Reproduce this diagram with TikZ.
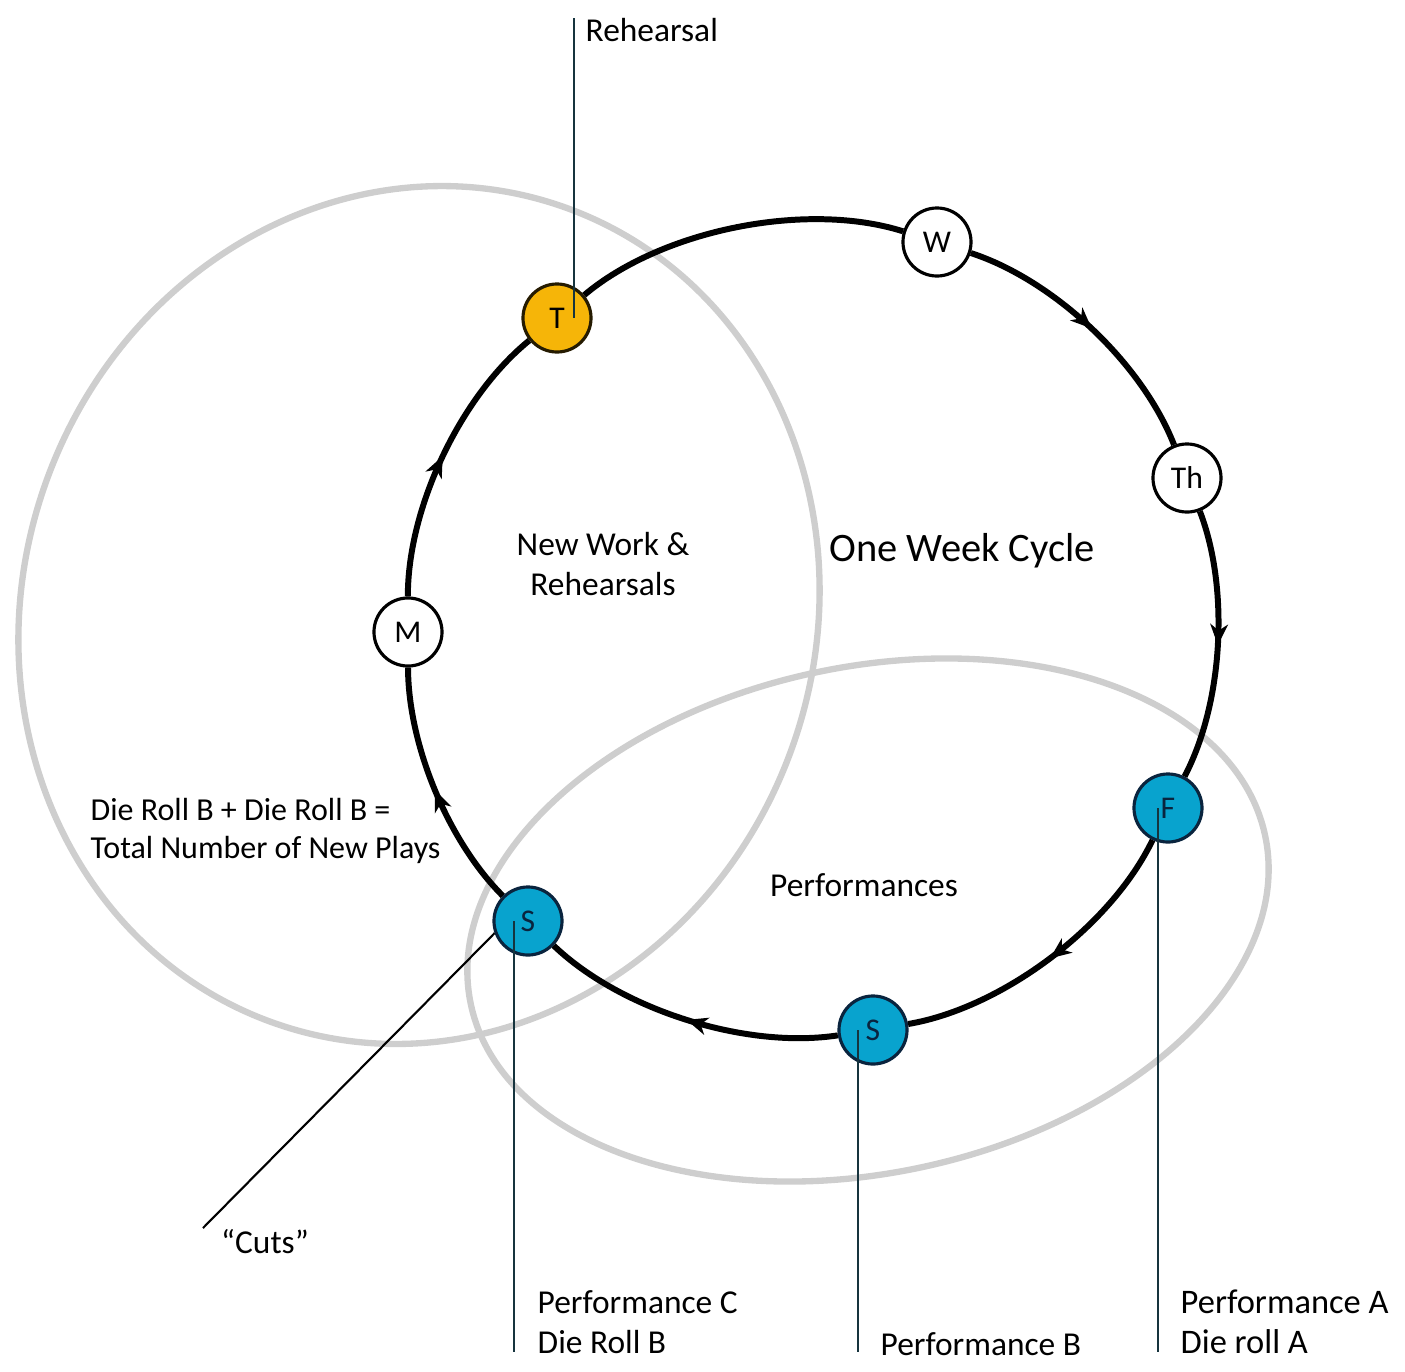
\documentclass[tikz,border=0pt]{standalone}
\usepackage{fontspec}
\setmainfont{Carlito}
\usetikzlibrary{arrows.meta,decorations.markings}

\definecolor{ringgray}{RGB}{206,206,206}
\definecolor{leadline}{RGB}{22,52,62}
\definecolor{rehyellow}{RGB}{246,181,8}
\definecolor{showblue}{RGB}{8,163,206}
\definecolor{showline}{RGB}{10,36,62}

\begin{document}
\begin{tikzpicture}[x=0.01cm, y=0.01cm,
    day/.style={circle, draw=black, line width=0.9pt, fill=white, minimum size=0.68cm, inner sep=0pt, font=\fontsize{9}{10}\selectfont},
    rehday/.style={day, fill=rehyellow, draw=black!85!rehyellow},
    showday/.style={day, fill=showblue, draw=showline, text=showline},
    week/.style={draw=black, line width=1.7pt, looseness=0.8},
    flow/.style={week, postaction={decorate}, decoration={markings, mark=at position 0.5 with {\arrow{Stealth[length=6pt,width=5pt,inset=1.8pt]}}}},
    ring/.style={draw=ringgray, line width=1.8pt},
    leader/.style={draw=leadline, line width=0.6pt},
    lbl/.style={inner sep=0pt, font=\fontsize{9.5}{11.4}\selectfont}
]
    \useasboundingbox (0,0) rectangle (1405,-1372);

    % the two grey groups
    \draw[ring, rotate around={-20:(419,-615)}] (419,-615) ellipse [x radius=396, y radius=433];
    \draw[ring, rotate around={12:(868,-920)}] (868,-920) ellipse [x radius=406, y radius=253];

    % days of the week
    \node[rehday] (T) at (557,-318) {T};
    \node[day] (W) at (937,-242) {W};
    \node[day] (Th) at (1187,-478) {Th};
    \node[showday] (F) at (1168,-808) {F};
    \node[showday] (Sb) at (873,-1030) {S};
    \node[showday] (Sa) at (528,-921) {S};
    \node[day] (M) at (408,-632) {M};

    \draw[week] (T) to[bend left=28.8] (W);
    \draw[flow] (W) to[bend left=25.3] (Th);
    \draw[flow] (Th) to[bend left=24.4] (F);
    \draw[flow] (F) to[bend left=27.3] (Sb);
    \draw[flow] (Sb) to[bend left=26.2] (Sa);
    \draw[flow] (Sa) to[bend left=22.5] (M);
    \draw[flow] (M) to[bend left=25.6] (T);

    % texts
    \node[lbl, anchor=west] (rehlbl) at (585,-30) {Rehearsal};
    \node[lbl, align=center] (newwork) at (603,-564) {New Work \&\\Rehearsals};
    \node[lbl, font=\fontsize{11.5}{13}\selectfont] (cycle) at (962,-551) {One Week Cycle};
    \node[lbl, anchor=west, align=left, font=\fontsize{9.1}{11}\selectfont] (plays) at (90,-831) {Die Roll B + Die Roll B =\\Total Number of New Plays};
    \node[lbl] (perf) at (864,-885) {Performances};
    \node[lbl] (cuts) at (265,-1242) {“Cuts”};
    \node[lbl, anchor=west, align=left] (perfClbl) at (537,-1322) {Performance C\\Die Roll B};
    \node[lbl, anchor=west] (perfBlbl) at (880,-1344) {Performance B};
    \node[lbl, anchor=west, align=left, font=\fontsize{9.8}{11.4}\selectfont] (perfAlbl) at (1180,-1322) {Performance A\\Die roll A};

    % leader lines
    \coordinate (rehtop) at (574,-18);
    \coordinate (cutend) at (203,-1228);
    \coordinate (perfC) at (514,-1352);
    \coordinate (perfB) at (858,-1352);
    \coordinate (perfA) at (1158,-1352);

    \draw[leader] (rehtop) -- (rehtop |- T.center);
    \draw[black, line width=0.6pt] (Sa.200) -- (cutend);
    \draw[leader] (perfC |- Sa.center) -- (perfC);
    \draw[leader] (perfB |- Sb.center) -- (perfB);
    \draw[leader] (perfA |- F.center) -- (perfA);
\end{tikzpicture}
\end{document}
